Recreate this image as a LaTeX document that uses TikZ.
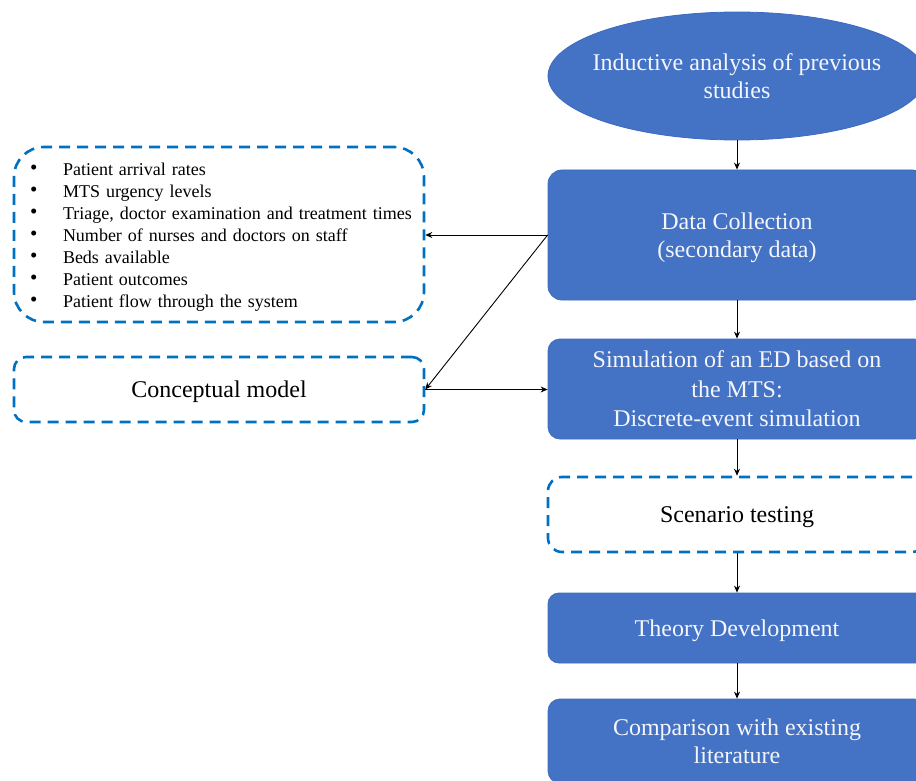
\documentclass[tikz,border=0pt]{standalone}
\usepackage{fontspec}
\setmainfont{Liberation Serif}
\usetikzlibrary{shapes.geometric,arrows.meta}
\definecolor{boxblue}{HTML}{4472C4}
\definecolor{boxedge}{HTML}{3C6AC0}
\definecolor{dashblue}{HTML}{0070C0}
\definecolor{paletext}{HTML}{F4F6FB}

\newcommand{\listdot}{\makebox[39pt][l]{\hspace{6pt}\raisebox{1pt}{\fontsize{21}{21}\selectfont\textbullet}}}

\begin{document}
\begin{tikzpicture}[x=1pt,y=-1pt,
  bigfont/.style={font=\fontsize{24}{28.5}\selectfont},
  dashline/.style={draw=dashblue, line width=2.6pt, dash pattern=on 11pt off 7pt},
  solidbox/.style={draw=boxedge, line width=0.8pt, fill=boxblue, text=paletext,
    rounded corners=14pt, minimum width=378pt, inner sep=0pt, align=center,
    text depth=0pt, bigfont},
  dashbox/.style={dashline, rounded corners=14pt, fill=white, inner sep=0pt,
    align=center, text depth=0pt, bigfont},
  link/.style={draw=black, line width=0.9pt, -{Stealth[length=7pt,width=6pt]}}
]
\useasboundingbox (0,0) rectangle (916,781);
\clip (0,0) rectangle (916,781);
\fill[white] (0,0) rectangle (916,781);

% main column
\node[ellipse, draw=boxedge, line width=0.8pt, fill=boxblue,
      minimum width=378pt, minimum height=128pt, inner sep=0pt]
  (ind) at (737,76) {};
\node[text=paletext, align=center, inner sep=0pt, text depth=0pt, bigfont]
  (indtext) at (ind.center) {Inductive analysis of previous\\studies};
\node[solidbox, minimum height=130pt] (dc) at (737,235)
  {Data Collection\\(secondary data)};
\node[solidbox, minimum height=100pt, rounded corners=12pt,
      font=\fontsize{24}{29.5}\selectfont] (sim) at (737,389)
  {Simulation of an ED based on\\the MTS:\\Discrete-event simulation};
\node[dashbox, minimum width=378pt, minimum height=75pt] (scen) at (737,514.5)
  {Scenario testing};
\node[solidbox, minimum height=70pt, rounded corners=11pt] (theo) at (737,628)
  {Theory Development};
\node[solidbox, minimum height=84pt, rounded corners=12pt] (comp) at (737,741)
  {Comparison with existing\\literature};

% left column
\node[dashline, rounded corners=30pt, fill=white, minimum width=410pt,
      minimum height=175pt, text width=390pt, inner xsep=10pt, inner ysep=0pt,
      align=left, font=\fontsize{18}{22}\selectfont]
  (list) at (219,234.5)
  {\rule{0pt}{18.5pt}\listdot Patient arrival rates\\
   \listdot MTS urgency levels\\
   \listdot Triage, doctor examination and treatment times\\
   \listdot Number of nurses and doctors on staff\\
   \listdot Beds available\\
   \listdot Patient outcomes\\
   \listdot Patient flow through the system};
\node[dashbox, minimum width=410pt, minimum height=65pt, rounded corners=12pt]
  (concept) at (219,389.5) {Conceptual model};

% connectors
\draw[link] (ind.south) -- (dc.north);
\draw[link] (dc.south) -- (sim.north);
\draw[link] (sim.south) -- (scen.north);
\draw[link] (scen.south) -- (theo.north);
\draw[link] (theo.south) -- (comp.north);
\draw[link] (dc.west) -- (dc.west -| list.east);
\draw[link] (dc.west) -- (concept.east);
\draw[link] (concept.east) -- (concept.east -| sim.west);
\end{tikzpicture}
\end{document}
